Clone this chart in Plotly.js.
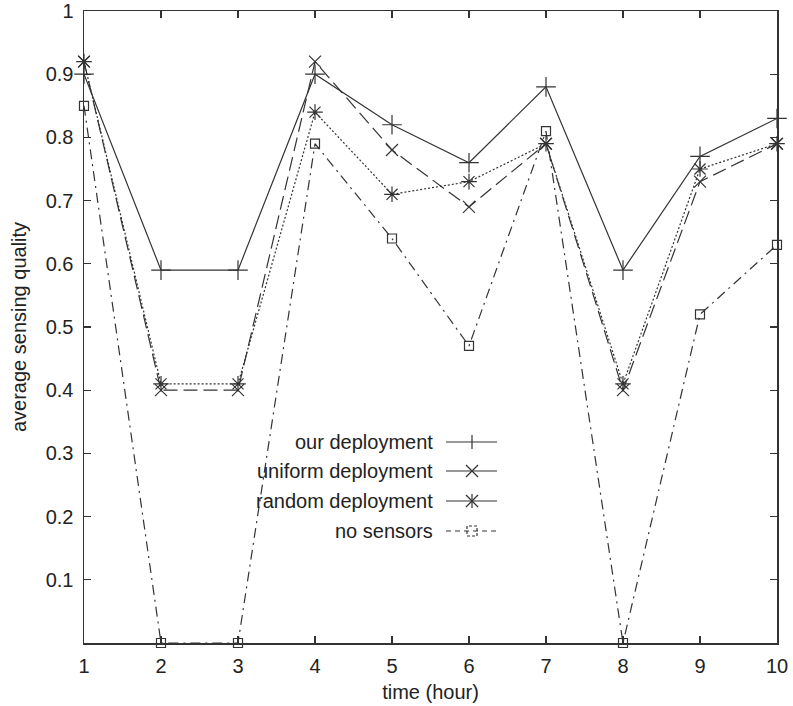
<!DOCTYPE html>
<html><head><meta charset="utf-8">
<script src="https://cdn.plot.ly/plotly-3.0.1.min.js"></script>
<style>html,body{margin:0;padding:0;background:#fff}#plot{width:793px;height:706px}</style>
</head><body><div id="plot"></div>
<script>
const hours = [1,2,3,4,5,6,7,8,9,10];
const ourDeployment = [0.90,0.59,0.59,0.90,0.82,0.76,0.88,0.59,0.77,0.83];
const uniformDeployment = [0.92,0.40,0.40,0.92,0.78,0.69,0.79,0.40,0.73,0.79];
const randomDeployment = [0.92,0.41,0.41,0.84,0.71,0.73,0.79,0.41,0.75,0.79];
const noSensors = [0.85,0.00,0.00,0.79,0.64,0.47,0.81,0.00,0.52,0.63];
const seriesNames = ['our deployment','uniform deployment','random deployment','no sensors'];
const yTickVals = [0.1,0.2,0.3,0.4,0.5,0.6,0.7,0.8,0.9,1];
const yTickText = ['0.1','0.2','0.3','0.4','0.5','0.6','0.7','0.8','0.9','1'];

const C = '#333333';
const FONT = 'Liberation Sans, Arial, sans-serif';
const styles = [
  {dash:'solid', symbol:'cross-thin-open', size:14},
  {dash:'14px,6px', symbol:'x-thin-open', size:12},
  {dash:'2px,2px', symbol:'asterisk-open', size:13},
  {dash:'10px,5px,2px,5px', symbol:'square-open', size:9}
];
const ys = [ourDeployment, uniformDeployment, randomDeployment, noSensors];
const traces = ys.map((y,i)=>({
  x: hours, y: y, name: seriesNames[i], type:'scatter', mode:'lines+markers',
  cliponaxis:false, showlegend:false,
  line:{color:C, width:1.2, dash:styles[i].dash},
  marker:{symbol:styles[i].symbol, size:styles[i].size, color:C, line:{color:C, width:1.2}}
}));

// custom legend (text right-aligned, sample on the right), in paper coordinates
const L = 84, R = 777, T = 11, B = 643;
const px = x => (x - L)/(R - L);
const py = y => (B - y)/(B - T);
const rows = [442, 471, 501, 531];
const annotations = [];
const shapes = [];
const x0 = 446, x1 = 497, xm = 472;
rows.forEach((ry,i)=>{
  annotations.push({xref:'paper', yref:'paper', x:px(435), y:py(ry), xanchor:'right', yanchor:'middle',
    text:seriesNames[i], showarrow:false, font:{family:FONT, size:20, color:'#222'}});
  shapes.push({type:'line', xref:'paper', yref:'paper', x0:px(x0), x1:px(x1), y0:py(ry), y1:py(ry),
    line:{color:C, width:1.2, dash: i===3 ? '5px,4px' : 'solid'}});
  const seg = (ax,ay,bx,by)=>shapes.push({type:'line', xref:'paper', yref:'paper',
    x0:px(ax), y0:py(ay), x1:px(bx), y1:py(by), line:{color:C, width:1.2}});
  if (i===0) { seg(xm, ry-7, xm, ry+7); }
  if (i===1) { seg(xm-6, ry-6, xm+6, ry+6); seg(xm-6, ry+6, xm+6, ry-6); }
  if (i===2) { seg(xm-6, ry-6, xm+6, ry+6); seg(xm-6, ry+6, xm+6, ry-6); seg(xm, ry-7, xm, ry+7); }
  if (i===3) {
    shapes.push({type:'rect', xref:'paper', yref:'paper', x0:px(xm-5), x1:px(xm+5), y0:py(ry+5), y1:py(ry-5),
      line:{color:C, width:1.2, dash:'3px,2px'}, fillcolor:'rgba(0,0,0,0)'});
  }
});

const axisCommon = {
  showgrid:false, zeroline:false, showline:true, linecolor:'#333', linewidth:1.5,
  mirror:'ticks', ticks:'inside', ticklen:7, tickcolor:'#333', tickwidth:1.1,
  tickfont:{family:FONT, size:20, color:'#222'}
};
const layout = {
  width:793, height:706,
  margin:{l:84, r:16, t:11, b:63},
  paper_bgcolor:'#fff', plot_bgcolor:'#fff',
  showlegend:false,
  xaxis: Object.assign({}, axisCommon, {range:[1,10], tickvals:hours, ticktext:hours.map(String),
    ticklabelstandoff:4,
    title:{text:'time (hour)', font:{family:FONT, size:20, color:'#222'}, standoff:9}}),
  yaxis: Object.assign({}, axisCommon, {range:[0,1], tickvals:yTickVals, ticktext:yTickText,
    ticklabelstandoff:5,
    title:{text:'average sensing quality', font:{family:FONT, size:20, color:'#222'}, standoff:13}}),
  annotations: annotations,
  shapes: shapes
};
Plotly.newPlot('plot', traces, layout, {displayModeBar:false, staticPlot:true});
</script></body></html>
